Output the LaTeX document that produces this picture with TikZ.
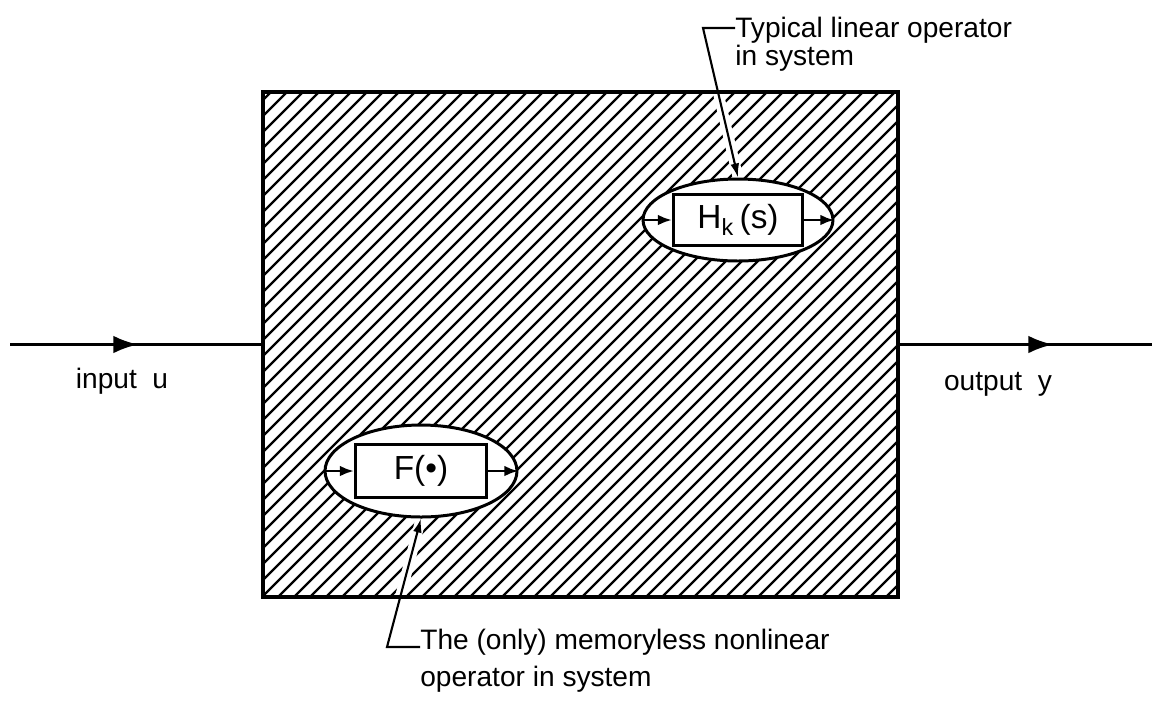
\documentclass[tikz,border=0pt]{standalone}
\usepackage{fontspec}
\setmainfont{Liberation Sans}
\usetikzlibrary{arrows.meta, positioning, shapes.geometric, backgrounds}

\begin{document}
\begin{tikzpicture}[
    x=0.02cm, y=-0.02cm,
    sysbox/.style={draw, line width=1.8pt, minimum width=12.7cm, minimum height=10.1cm, inner sep=0, outer sep=0},
    opell/.style={ellipse, draw, fill=white, line width=1.7pt, inner sep=0},
    opbox/.style={draw, fill=white, line width=1.7pt, inner sep=0, font=\fontsize{19}{22}\selectfont},
    note/.style={align=left, inner sep=0, font=\fontsize{16}{16}\selectfont},
    sig/.style={font=\fontsize{16}{19}\selectfont},
    wire/.style={line width=1.7pt},
    flow/.style={wire, -{Latex[length=14pt,width=10pt]}},
    tip/.style={line width=1.5pt, -{Latex[length=8pt,width=6pt]}},
    lead/.style={line width=1.2pt, -{Latex[length=8pt,width=5pt]}, preaction={draw=white, line width=6pt, -}},
    hatch/.style={line width=1.3pt}
  ]
  \useasboundingbox (0,0) rectangle (1155,708);

  % the system and its two operators
  \node[sysbox] (sys) at (580.5,344.5) {};
  \node[opell, minimum width=3.8cm, minimum height=1.64cm] (hell) at (738,220) {};
  \node[opbox, minimum width=2.58cm, minimum height=1.02cm] (hbox) at (hell) {H\textsubscript{k}\,(s)};
  \node[opell, minimum width=3.84cm, minimum height=1.84cm] (fell) at (421,471) {};
  \node[opbox, minimum width=2.62cm, minimum height=1.06cm] (fbox) at (fell) {F(•)};

  \draw[tip] (hell.west) -- (hbox.west);
  \draw[tip] (hbox.east) -- (hell.east);
  \draw[tip] (fell.west) -- (fbox.west);
  \draw[tip] (fbox.east) -- (fell.east);

  % input and output
  \coordinate (uin) at (10,344.5);
  \coordinate (umid) at (138,344.5);
  \coordinate (ymid) at (1053,344.5);
  \coordinate (yout) at (1152,344.5);
  \draw[wire] (uin) -- (sys.west);
  \draw[flow] (uin) -- (umid);
  \draw[wire] (sys.east) -- (yout);
  \draw[flow] (sys.east) -- (ymid);
  \node[sig] (ulab) at (122,381) {input\ \ u};
  \node[sig] (ylab) at (998,384) {output\ \ y};

  % notes
  \node[note, anchor=north west] (tlab) at (735,17) {Typical linear operator\\in system};
  \node[note, anchor=north west] (blab) at (420,629) {The (only) memoryless nonlinear\\[5pt]operator in system};
  \coordinate (tbend) at (703,28);
  \coordinate (bbend) at (387,647);

  \begin{scope}[on background layer]
    \begin{scope}
      \clip (sys.north west) rectangle (sys.south east);
      \foreach \k in {-250,-234,...,910}
        \draw[hatch] (\k,597) -- ++(505,-505);
    \end{scope}
    \draw[lead] (tbend -| tlab.west) -- (tbend) -- (hell.north);
    \draw[lead] (bbend -| blab.west) -- (bbend) -- (fell.south);
  \end{scope}
\end{tikzpicture}
\end{document}
